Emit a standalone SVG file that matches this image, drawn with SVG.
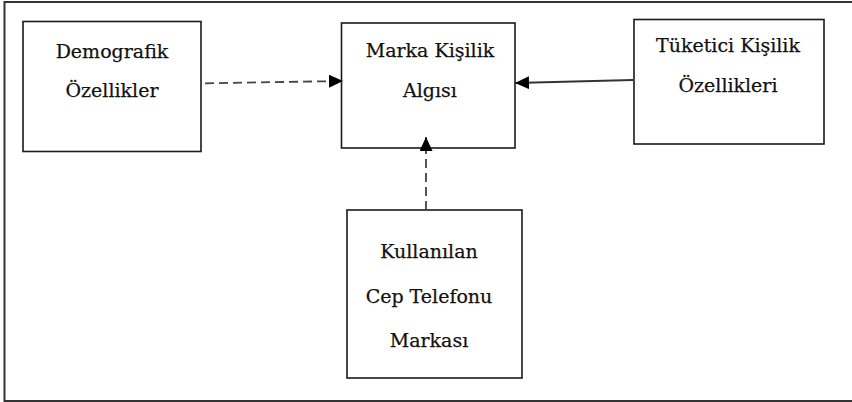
<svg xmlns="http://www.w3.org/2000/svg" width="852" height="402" viewBox="0 0 852 402">
  <defs>
    <style>
      .frame { fill: #ffffff; stroke: #333333; stroke-width: 2; }
      .box { fill: #ffffff; stroke: #1a1a1a; stroke-width: 1.6; }
      .label { font-family: 'DejaVu Serif', serif; font-size: 19px; fill: #111111; stroke: #111111; stroke-width: 0.25; text-anchor: middle; }
      .dash { fill: none; stroke: #444444; stroke-width: 1.8; stroke-dasharray: 9 5; }
      .solid { fill: none; stroke: #333333; stroke-width: 1.8; }
      .head { fill: #000000; }
    </style>
    <marker id="arrow" viewBox="0 0 14 13" refX="14" refY="6.5" markerWidth="14" markerHeight="13" markerUnits="userSpaceOnUse" orient="auto">
      <path class="head" d="M0,0 L14,6.5 L0,13 Z"/>
    </marker>
  </defs>

  <!-- outer frame -->
  <rect class="frame" x="4.5" y="2" width="852" height="399"/>

  <g id="demografik">
    <rect class="box" x="23" y="21.5" width="178" height="130"/>
    <text class="label" x="112" y="57.5">Demografik</text>
    <text class="label" x="112" y="96.5">Özellikler</text>
  </g>

  <g id="marka-kisilik">
    <rect class="box" x="341.5" y="23" width="173.5" height="125"/>
    <text class="label" x="430" y="56.5">Marka Kişilik</text>
    <text class="label" x="430" y="96.5">Algısı</text>
  </g>

  <g id="tuketici">
    <rect class="box" x="634" y="19.5" width="190" height="124.5"/>
    <text class="label" x="728" y="52">Tüketici Kişilik</text>
    <text class="label" x="728" y="92">Özellikleri</text>
  </g>

  <g id="kullanilan">
    <rect class="box" x="347" y="210" width="175" height="168"/>
    <text class="label" x="429" y="258">Kullanılan</text>
    <text class="label" x="429" y="303">Cep Telefonu</text>
    <text class="label" x="429" y="347">Markası</text>
  </g>

  <!-- connectors, drawn over the boxes so the heads stay visible -->
  <g id="connectors">
    <line class="dash" x1="205" y1="83.3" x2="343" y2="81" marker-end="url(#arrow)"/>
    <line class="solid" x1="633" y1="80" x2="515" y2="83" marker-end="url(#arrow)"/>
    <line class="dash" x1="426" y1="210" x2="426" y2="137" marker-end="url(#arrow)"/>
  </g>
</svg>
